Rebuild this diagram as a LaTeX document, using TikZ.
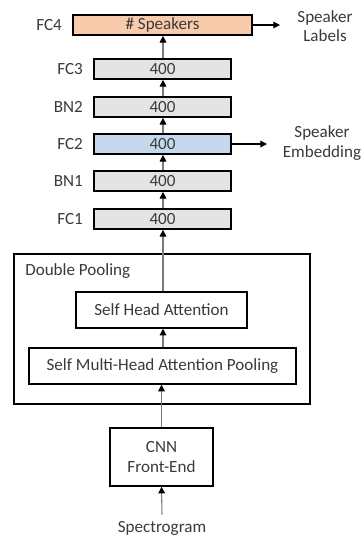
\documentclass[tikz,border=0pt]{standalone}
\usepackage{fontspec}
\setmainfont{Carlito}
\usetikzlibrary{arrows.meta,calc}
\definecolor{boxgray}{HTML}{E4E4E4}
\definecolor{boxblue}{HTML}{C5D9EE}
\definecolor{boxorange}{HTML}{F8CBAD}
\definecolor{linegray}{HTML}{7A7A7A}
\definecolor{textgray}{HTML}{3A3A3A}
\newcommand{\figfont}{\fontsize{12.8}{14.5}\selectfont}
\tikzset{
  layer/.style={draw=black, line width=1.3pt, minimum width=102.75pt, minimum height=15pt, inner sep=0pt, font=\figfont, text=textgray},
  plainbox/.style={draw=black, line width=1.1pt, inner sep=0pt, align=center, font=\figfont, text=textgray},
  lbl/.style={anchor=east, inner sep=0pt, font=\figfont, text=textgray},
  txt/.style={inner sep=0pt, align=center, font=\figfont, text=textgray},
  arr/.style={draw=linegray, line width=0.8pt, -{Triangle[width=5pt,length=5pt,black]}},
}
\begin{document}
\begin{tikzpicture}[x=0.75pt, y=-0.75pt]
\useasboundingbox (0,0) rectangle (364,540);
% outer box
\node[draw=black, line width=1pt, minimum width=222pt, minimum height=112.5pt, inner sep=0pt] (dp) at (162,329) {};
\node[txt, anchor=west] (dpl) at (25,271) {Double Pooling};
% layers
\node[layer, fill=boxorange, minimum width=134.25pt] (fc4) at (162.5,25) {\# Speakers};
\node[layer, fill=boxgray] (fc3) at (162.5,69) {400};
\node[layer, fill=boxgray] (bn2) at (162.5,107) {400};
\node[layer, fill=boxblue] (fc2) at (162.5,144) {400};
\node[layer, fill=boxgray] (bn1) at (162.5,181) {400};
\node[layer, fill=boxgray] (fc1) at (162.5,219) {400};
% labels
\node[lbl] (l4) at ($(fc4.west)+(-10,0)$) {FC4};
\node[lbl] (l3) at ($(fc3.west)+(-10,0)$) {FC3};
\node[lbl] (l2b) at ($(bn2.west)+(-10,0)$) {BN2};
\node[lbl] (l2) at ($(fc2.west)+(-10,0)$) {FC2};
\node[lbl] (l1b) at ($(bn1.west)+(-10,0)$) {BN1};
\node[lbl] (l1) at ($(fc1.west)+(-10,0)$) {FC1};
% pooling boxes
\node[plainbox, minimum width=128.25pt, minimum height=27pt] (sha) at (161.5,310) {Self Head Attention};
\node[plainbox, minimum width=200.25pt, minimum height=27pt] (smha) at (162.5,366) {Self Multi-Head Attention Pooling};
\node[plainbox, minimum width=77.25pt, minimum height=43.5pt] (cnn) at (161.5,457) {CNN\\Front-End};
\node[txt] (spec) at (162,528) {Spectrogram};
% outputs
\node[txt] (sl) at (325,26) {Speaker\\Labels};
\node[txt] (se) at (322,143) {Speaker\\Embedding};
\coordinate (slend) at (280,25);
\coordinate (seend) at (267,144);
% arrows
\draw[arr] (spec.north) ++(0,-6) -- (cnn.south);
\draw[arr] (cnn.north) -- (smha.south -| cnn.north);
\draw[arr] (smha.north -| 163,0) -- (sha.south -| 163,0);
\draw[arr] (sha.north -| 163,0) -- (fc1.south -| 163,0);
\draw[arr] (fc1.north -| 163,0) -- (bn1.south -| 163,0);
\draw[arr] (bn1.north -| 163,0) -- (fc2.south -| 163,0);
\draw[arr] (fc2.north -| 163,0) -- (bn2.south -| 163,0);
\draw[arr] (bn2.north -| 163,0) -- (fc3.south -| 163,0);
\draw[arr] (fc3.north -| 163,0) -- (fc4.south -| 163,0);
\draw[arr, draw=black] (fc4.east) -- (slend);
\draw[arr, draw=black] (fc2.east) -- (seend);
\end{tikzpicture}
\end{document}
